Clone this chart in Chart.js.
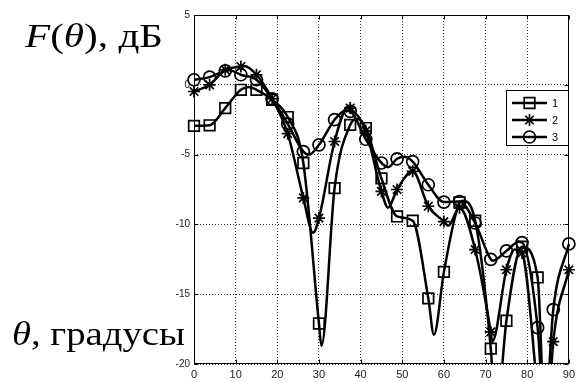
<!DOCTYPE html>
<html>
<head>
<meta charset="utf-8">
<script src="https://cdn.jsdelivr.net/npm/chart.js@4.4.1/dist/chart.umd.min.js"></script>
<style>
  html, body { margin: 0; padding: 0; background: #fff; }
  #wrap { width: 579px; height: 382px; position: relative; }
</style>
</head>
<body>
<div id="wrap"><canvas id="c" width="579" height="382"></canvas></div>
<script>
// ---- data ----
const xTicks = [0, 10, 20, 30, 40, 50, 60, 70, 80, 90];
const yTicks = [-20, -15, -10, -5, 0, 5];
const seriesNames = ['1', '2', '3'];

// angles where markers are drawn (degrees)
const markerX = [0, 3.75, 7.5, 11.25, 15, 18.75, 22.5, 26.25, 30, 33.75, 37.5, 41.25, 45,
                 48.75, 52.5, 56.25, 60, 63.75, 67.5, 71.25, 75, 78.75, 82.5, 86.25, 90];

// F(theta), dB at the marker angles
const series1 = [-2.94, -2.9, -1.67, -0.36, -0.36, -1.07, -2.31, -5.6, -17.1, -7.4, -2.87, -3.1, -6.7,
                 -9.43, -9.74, -15.3, -13.4, -8.43, -9.74, -18.9, -16.9, -11.6, -13.8, -23, -21];
const series2 = [-0.48, 0.0, 1.07, 1.31, 0.72, -1.0, -3.5, -8.1, -9.55, -4.06, -1.67, -3.3, -7.64,
                 -7.5, -6.2, -8.7, -9.8, -8.8, -11.8, -17.7, -13.25, -12.05, -22, -18.4, -13.25];
const series3 = [0.36, 0.55, 1.0, 0.72, 0.36, -1.0, -2.8, -4.78, -4.3, -2.5, -1.9, -3.9, -5.6,
                 -5.3, -5.5, -7.16, -8.4, -8.36, -9.9, -12.5, -11.9, -11.3, -17.4, -16.1, -11.4];

// extra curve points between markers (peaks and nulls)
const series1ExtraX = [13.1, 30.6, 39.3, 57.6, 64.4, 72.5, 84.5];
const series1ExtraY = [-0.15, -18.7, -2.45, -17.9, -8.3, -24, -26];
const series2ExtraX = [12, 28.6, 37.0, 46.6, 61.0, 71.6, 77.0, 84.2];
const series2ExtraY = [1.35, -10.6, -1.6, -8.8, -10.1, -18.4, -11.8, -27];
const series3ExtraX = [8.5, 27.6, 36.3, 46.6, 50.5, 71.8, 78.0, 84.2];
const series3ExtraY = [1.05, -5.0, -1.85, -5.9, -5.15, -12.6, -11.25, -24];

// ---- build chart structures ----
function pts(xs, ys) { return xs.map((x, i) => ({ x: x, y: ys[i] })); }
function curve(xs, ys, ex, ey) {
  return pts(xs, ys).concat(pts(ex, ey)).sort((a, b) => a.x - b.x);
}
const styles = ['rect', 'star', 'circle'];
const markerRadius = { rect: 7.5, star: 6, circle: 6 };
const allSeries = [
  [series1, series1ExtraX, series1ExtraY],
  [series2, series2ExtraX, series2ExtraY],
  [series3, series3ExtraX, series3ExtraY]
];
const datasets = [];
allSeries.forEach((s, i) => {
  datasets.push({
    label: seriesNames[i] + ' line',
    data: curve(markerX, s[0], s[1], s[2]),
    showLine: true,
    borderColor: '#000',
    borderWidth: 2.5,
    pointRadius: 0,
    cubicInterpolationMode: 'monotone',
    clip: { left: 1, right: 1, top: 0, bottom: 0 }
  });
  datasets.push({
    label: seriesNames[i],
    data: pts(markerX, s[0]),
    showLine: false,
    pointStyle: styles[i],
    pointRadius: markerRadius[styles[i]],
    pointBorderColor: '#000',
    pointBackgroundColor: 'rgba(0,0,0,0)',
    pointBorderWidth: 1.7,
    clip: { left: 10, right: 10, top: 0, bottom: 0 }
  });
});

function drawMarker(ctx, style, x, y) {
  ctx.save();
  ctx.strokeStyle = '#000';
  ctx.lineWidth = 1.7;
  ctx.beginPath();
  if (style === 'rect') {
    const h = markerRadius.rect * Math.SQRT1_2;
    ctx.rect(x - h, y - h, 2 * h, 2 * h);
  } else if (style === 'circle') {
    ctx.arc(x, y, markerRadius.circle, 0, Math.PI * 2);
  } else {
    const r = markerRadius.star;
    ctx.moveTo(x - r, y); ctx.lineTo(x + r, y);
    ctx.moveTo(x, y - r); ctx.lineTo(x, y + r);
    const d = r * Math.SQRT1_2;
    ctx.moveTo(x - d, y - d); ctx.lineTo(x + d, y + d);
    ctx.moveTo(x - d, y + d); ctx.lineTo(x + d, y - d);
  }
  ctx.stroke();
  ctx.restore();
}

function drawRich(ctx, parts, x0, baseline, targetWidth, size) {
  let total = 0;
  const widths = parts.map(p => {
    ctx.font = (p[1] ? 'italic ' : '') + size + 'px "Liberation Serif", "Times New Roman", serif';
    const w = ctx.measureText(p[0]).width;
    total += w;
    return w;
  });
  const sx = targetWidth / total;
  ctx.save();
  ctx.translate(x0, baseline);
  ctx.scale(sx, 1);
  ctx.fillStyle = '#000';
  ctx.textBaseline = 'alphabetic';
  ctx.textAlign = 'left';
  let cx = 0;
  parts.forEach((p, i) => {
    ctx.font = (p[1] ? 'italic ' : '') + size + 'px "Liberation Serif", "Times New Roman", serif';
    ctx.fillText(p[0], cx, 0);
    cx += widths[i];
  });
  ctx.restore();
}

const framePlugin = {
  id: 'frame',
  afterDraw(chart) {
    const ctx = chart.ctx;
    const a = chart.chartArea;
    const xs = chart.scales.x, ys = chart.scales.y;
    ctx.save();
    ctx.strokeStyle = '#000';
    ctx.lineWidth = 1;
    const L = Math.round(a.left) + 0.5, R = Math.round(a.right) - 0.5;
    const T = Math.round(a.top) + 0.5, B = Math.round(a.bottom) - 0.5;
    ctx.strokeRect(L, T, R - L, B - T);
    ctx.beginPath();
    xTicks.forEach(v => {
      const px = Math.round(xs.getPixelForValue(v)) + 0.5;
      ctx.moveTo(px, B); ctx.lineTo(px, B - 4);
      ctx.moveTo(px, T); ctx.lineTo(px, T + 4);
    });
    yTicks.forEach(v => {
      const py = Math.round(ys.getPixelForValue(v)) + 0.5;
      ctx.moveTo(L, py); ctx.lineTo(L + 4, py);
      ctx.moveTo(R, py); ctx.lineTo(R - 4, py);
    });
    ctx.stroke();

    // legend box
    const bx = 506, by = 90, bw = 62, bh = 55;
    ctx.fillStyle = '#fff';
    ctx.fillRect(bx, by, bw, bh);
    ctx.strokeRect(bx + 0.5, by + 0.5, bw, bh);
    const rows = [103, 120, 137];
    ctx.font = '11px "Liberation Sans", Arial, sans-serif';
    ctx.textBaseline = 'middle';
    ctx.textAlign = 'left';
    rows.forEach((y, i) => {
      ctx.lineWidth = 2.5;
      ctx.beginPath();
      ctx.moveTo(512, y); ctx.lineTo(547, y);
      ctx.stroke();
      drawMarker(ctx, styles[i], 529.5, y);
      ctx.fillStyle = '#000';
      ctx.fillText(seriesNames[i], 552, y + 1);
    });
    ctx.restore();

    // axis titles
    drawRich(ctx, [['F', true], ['(', false], ['\u03B8', true], ['), \u0434\u0411', false]], 25, 47, 138, 33);
    drawRich(ctx, [['\u03B8', true], [', \u0433\u0440\u0430\u0434\u0443\u0441\u044B', false]], 12, 345, 173, 33);
  }
};

new Chart(document.getElementById('c'), {
  type: 'scatter',
  data: { datasets: datasets },
  plugins: [framePlugin],
  options: {
    responsive: false,
    animation: false,
    locale: 'en-US',
    layout: { padding: { left: 170, right: 8, top: 15, bottom: 0 } },
    plugins: { legend: { display: false }, tooltip: { enabled: false } },
    scales: {
      x: {
        type: 'linear', min: 0, max: 90,
        afterBuildTicks: s => { s.ticks = xTicks.map(v => ({ value: v })); },
        afterFit: s => { s.height = 18; },
        ticks: { color: '#222', padding: 4, font: { family: '"Liberation Sans", Arial, sans-serif', size: 11 }, maxRotation: 0 },
        grid: { color: '#333', lineWidth: 1, drawTicks: false },
        border: { display: false, dash: [1, 2] }
      },
      y: {
        type: 'linear', min: -20, max: 5,
        afterBuildTicks: s => { s.ticks = yTicks.map(v => ({ value: v })); },
        afterFit: s => { s.width = 24; },
        ticks: { color: '#222', padding: 4, font: { family: '"Liberation Sans", Arial, sans-serif', size: 10 } },
        grid: { color: '#333', lineWidth: 1, drawTicks: false },
        border: { display: false, dash: [1, 2] }
      }
    }
  }
});
</script>
</body>
</html>
